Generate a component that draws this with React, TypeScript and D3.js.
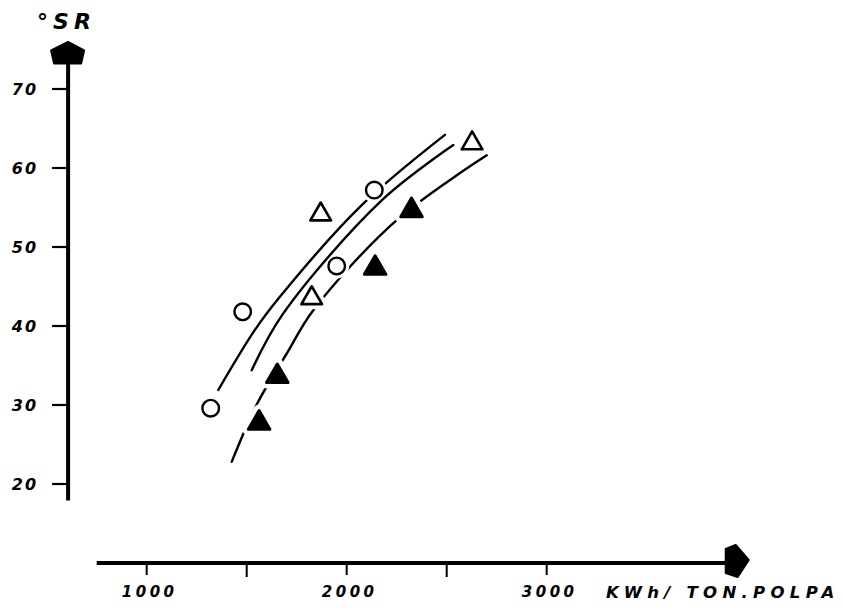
import { useEffect, useRef } from 'react';
import * as d3 from 'd3';

// ticks
const xTicks = [1000, 1500, 2000, 2500, 3000];
const xTickLabels = ['1000', '', '2000', '', '3000'];
const yTicks = [20, 30, 40, 50, 60, 70];

// open circles
const circleX = [1320, 1480, 1950, 2138];
const circleY = [29.6, 41.8, 47.6, 57.2];

// open triangles
const openTriX = [1825, 1870, 2627];
const openTriY = [43.9, 54.5, 63.5];

// filled triangles
const fillTriX = [1562, 1653, 2142, 2324];
const fillTriY = [28.1, 34.0, 47.7, 55.0];

// hand-drawn curves
const curveAX = [1358, 1541, 1666, 2075, 2491];
const curveAY = [31.9, 39.5, 43.7, 55.3, 64.2];
const curveBX = [1525, 1683, 2175, 2533];
const curveBY = [34.4, 41.6, 55.9, 62.9];
const curveCX = [1425, 1553, 1700, 1833, 2250, 2700];
const curveCY = [22.8, 30.2, 36.5, 42.0, 53.4, 61.6];

const zip = (xs: number[], ys: number[]) => xs.map((v, i) => [v, ys[i]] as [number, number]);

export default function App() {
    const svgRef = useRef<SVGSVGElement>(null);

    useEffect(() => {
        if (!svgRef.current) return;
        const svg = d3.select(svgRef.current);
        svg.selectAll('*').remove();

        const x = d3.scaleLinear().domain([1000, 3000]).range([146.7, 546.7]);
        const y = d3.scaleLinear().domain([20, 70]).range([484, 89]);
        const font = '"DejaVu Sans", Verdana, sans-serif';

        // axes sit at x = 607 and y = 10 in data units
        const ax = x(607);
        const ay = y(10);
        const yTop = 74.5;

        // 1. axes
        svg.append('line')
            .attr('x1', ax).attr('x2', ax)
            .attr('y1', y(17.9)).attr('y2', y(yTop))
            .attr('stroke', '#000').attr('stroke-width', 4);

        svg.append('line')
            .attr('x1', x(750)).attr('x2', x(3950))
            .attr('y1', ay).attr('y2', ay)
            .attr('stroke', '#000').attr('stroke-width', 4);

        // arrow heads (pentagons)
        svg.append('path')
            .attr('transform', `translate(${ax},${y(yTop)})`)
            .attr('d', 'M0,-11.5 L16,-3 L13,10 L-14,10 L-17,-3 Z')
            .attr('fill', '#000').attr('stroke', '#000')
            .attr('stroke-width', 2).attr('stroke-linejoin', 'round');

        svg.append('path')
            .attr('transform', `translate(${x(3950)},${ay - 2})`)
            .attr('d', 'M12,-1 L1,16 L-11,12 L-11,-12 L-1,-16 Z')
            .attr('fill', '#000').attr('stroke', '#000')
            .attr('stroke-width', 2).attr('stroke-linejoin', 'round');

        // y ticks + labels
        const yt = svg.append('g');
        yt.selectAll('line').data(yTicks).enter().append('line')
            .attr('x1', ax - 16).attr('x2', ax)
            .attr('y1', d => y(d)).attr('y2', d => y(d))
            .attr('stroke', '#000').attr('stroke-width', 2.2);
        yt.selectAll('text').data(yTicks).enter().append('text')
            .attr('x', ax - 30)
            .attr('y', d => y(d) + 6)
            .attr('text-anchor', 'end')
            .attr('font-family', font).attr('font-weight', 'bold')
            .attr('font-style', 'italic').attr('font-size', 16)
            .attr('letter-spacing', 2)
            .text(d => String(d));

        // x ticks + labels
        const xt = svg.append('g');
        xt.selectAll('line').data(xTicks).enter().append('line')
            .attr('x1', d => x(d)).attr('x2', d => x(d))
            .attr('y1', ay).attr('y2', (d, i) => ay + (xTickLabels[i] ? 12 : 14))
            .attr('stroke', '#000').attr('stroke-width', 2);
        xt.selectAll('text').data(xTicks).enter().append('text')
            .attr('x', d => x(d) + 3)
            .attr('y', ay + 34)
            .attr('text-anchor', 'middle')
            .attr('font-family', font).attr('font-weight', 'bold')
            .attr('font-style', 'italic').attr('font-size', 15)
            .attr('letter-spacing', 3.5)
            .text((d, i) => xTickLabels[i]);

        // axis titles
        svg.append('text')
            .attr('x', ax - 31).attr('y', 29)
            .attr('font-family', font).attr('font-weight', 'bold')
            .attr('font-style', 'italic').attr('font-size', 22)
            .attr('letter-spacing', 5)
            .text('°SR');

        svg.append('text')
            .attr('x', 606).attr('y', ay + 35)
            .attr('font-family', font).attr('font-weight', 'bold')
            .attr('font-style', 'italic').attr('font-size', 16.5)
            .attr('letter-spacing', 5.3)
            .text('KWh/ TON.POLPA');

        // 2. curves
        const line = d3.line<[number, number]>()
            .x(d => x(d[0]))
            .y(d => y(d[1]))
            .curve(d3.curveCatmullRom.alpha(0.5));

        const drawCurve = (xs: number[], ys: number[]) =>
            svg.append('path')
                .datum(zip(xs, ys))
                .attr('fill', 'none')
                .attr('stroke', '#000')
                .attr('stroke-width', 2.4)
                .attr('stroke-linecap', 'round')
                .attr('d', line);

        drawCurve(curveAX, curveAY);
        drawCurve(curveCX, curveCY);

        // white halos break the curves around the markers, like the pen drawing
        const triOpen = d3.symbol().type(d3.symbolTriangle).size(185)();
        const triFill = d3.symbol().type(d3.symbolTriangle).size(200)();

        const halo = svg.append('g');
        halo.selectAll('circle').data(zip(circleX, circleY)).enter().append('circle')
            .attr('cx', d => x(d[0])).attr('cy', d => y(d[1]))
            .attr('r', 12.5).attr('fill', '#fff');
        halo.selectAll('path.o').data(zip(openTriX, openTriY)).enter().append('path')
            .attr('class', 'o')
            .attr('transform', d => `translate(${x(d[0])},${y(d[1]) + 3})`)
            .attr('d', triOpen)
            .attr('fill', '#fff').attr('stroke', '#fff')
            .attr('stroke-width', 10).attr('stroke-linejoin', 'round');
        halo.selectAll('path.f').data(zip(fillTriX, fillTriY)).enter().append('path')
            .attr('class', 'f')
            .attr('transform', d => `translate(${x(d[0])},${y(d[1]) + 3})`)
            .attr('d', triFill)
            .attr('fill', '#fff').attr('stroke', '#fff')
            .attr('stroke-width', 12).attr('stroke-linejoin', 'round');

        drawCurve(curveBX, curveBY);

        // 3. markers
        const marks = svg.append('g');
        marks.selectAll('circle').data(zip(circleX, circleY)).enter().append('circle')
            .attr('cx', d => x(d[0])).attr('cy', d => y(d[1]))
            .attr('r', 8.3)
            .attr('fill', '#fff').attr('stroke', '#000').attr('stroke-width', 2.4);
        marks.selectAll('path.o').data(zip(openTriX, openTriY)).enter().append('path')
            .attr('class', 'o')
            .attr('transform', d => `translate(${x(d[0])},${y(d[1]) + 3})`)
            .attr('d', triOpen)
            .attr('fill', '#fff').attr('stroke', '#000')
            .attr('stroke-width', 2.6).attr('stroke-linejoin', 'round');
        marks.selectAll('path.f').data(zip(fillTriX, fillTriY)).enter().append('path')
            .attr('class', 'f')
            .attr('transform', d => `translate(${x(d[0])},${y(d[1]) + 3})`)
            .attr('d', triFill)
            .attr('fill', '#000').attr('stroke', '#000')
            .attr('stroke-width', 3).attr('stroke-linejoin', 'round');
    }, []);

    return (
        <svg
            ref={svgRef}
            width={842}
            height={615}
            style={{ position: 'absolute', left: 0, top: 0, background: '#fff' }}
        />
    );
}
